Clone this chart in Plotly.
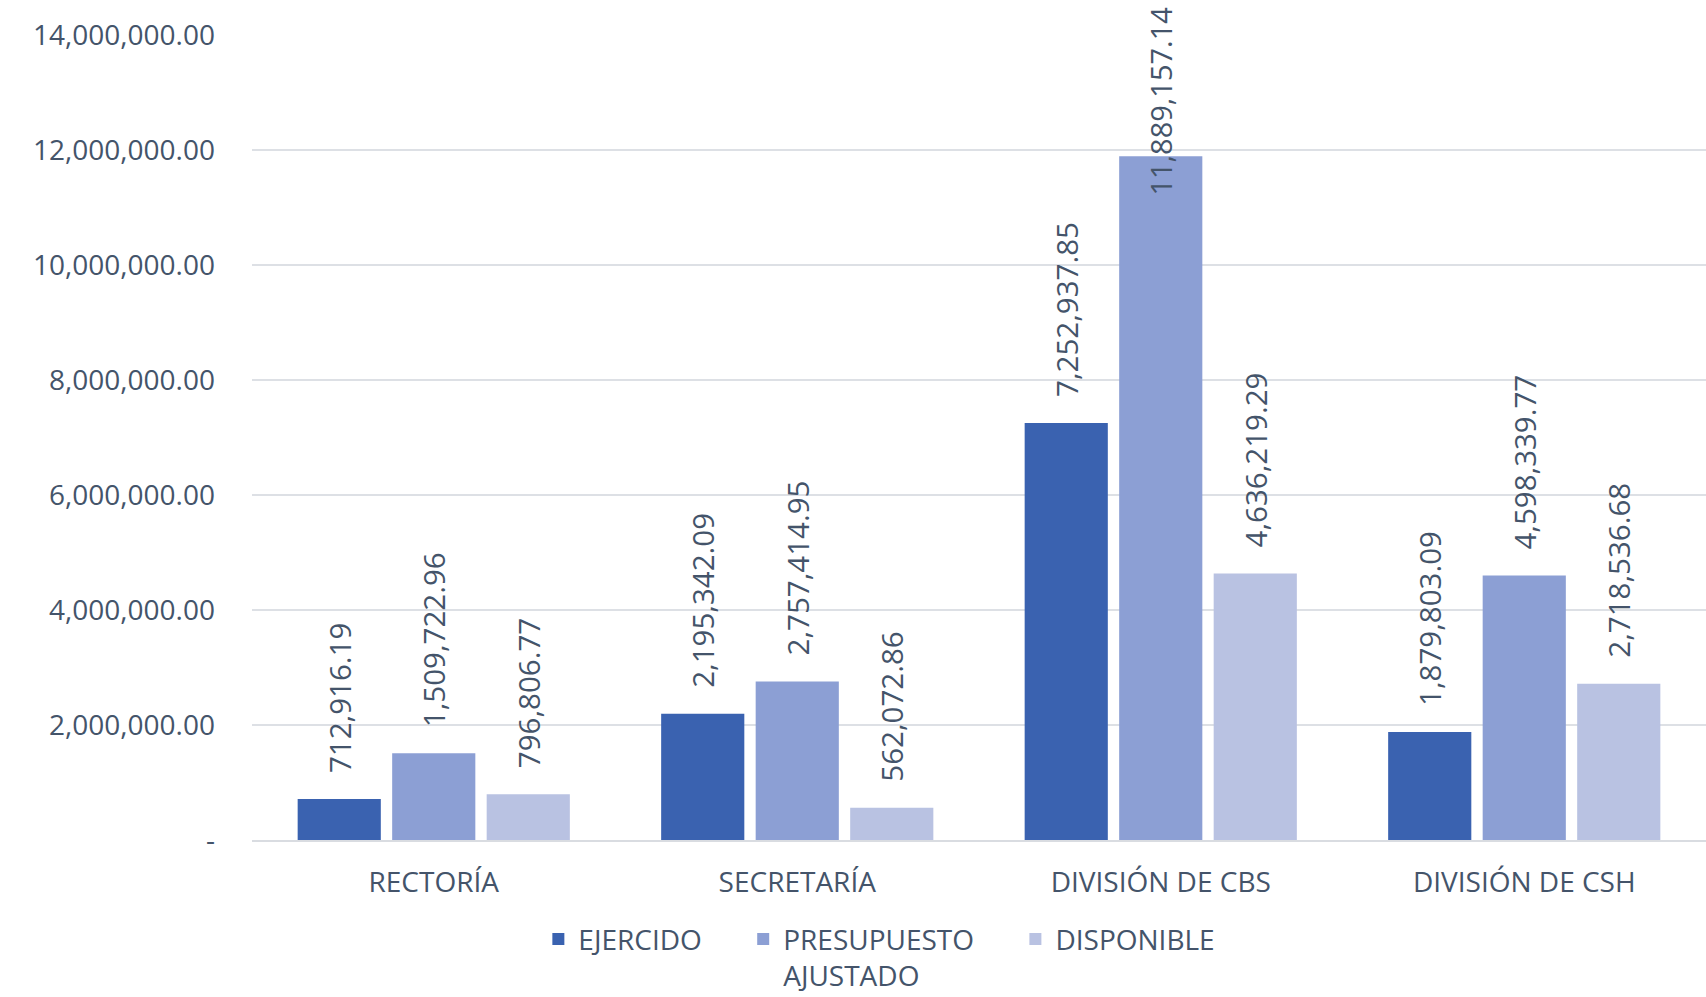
import plotly.graph_objects as go

categories = ["RECTORÍA", "SECRETARÍA", "DIVISIÓN DE CBS", "DIVISIÓN DE CSH"]
ejercido = [712916.19, 2195342.09, 7252937.85, 1879803.09]
presupuesto = [1509722.96, 2757414.95, 11889157.14, 4598339.77]
disponible = [796806.77, 562072.86, 4636219.29, 2718536.68]
series_names = ["EJERCIDO", "PRESUPUESTO<br>AJUSTADO", "DISPONIBLE"]
series_colors = ["#3A62B0", "#8C9FD4", "#B9C2E2"]
tick_values = [0, 2000000, 4000000, 6000000, 8000000, 10000000, 12000000, 14000000]
tick_labels = ["-", "2,000,000.00", "4,000,000.00", "6,000,000.00", "8,000,000.00",
               "10,000,000.00", "12,000,000.00", "14,000,000.00"]

Y_MAX = 14000000
TXT = "#44546A"
FONT = "Open Sans"
FS = 28
FS_LBL = 29.5
PAD = "\u00a0" * 5

fig = go.Figure()
annotations = []
for name, vals, color in zip(series_names, [ejercido, presupuesto, disponible], series_colors):
    texts = []
    for c, v in zip(categories, vals):
        s = f"{v:,.2f}"
        if v > 0.8 * Y_MAX:
            texts.append("")
            annotations.append(dict(
                x=c, y=v, xref="x", yref="y", text=s, textangle=-90,
                showarrow=False, yanchor="bottom", xanchor="center", yshift=-41,
                font=dict(family=FONT, size=29, color=TXT)))
        else:
            texts.append("\u00a0\u00a0\u00a0" + s)
    parts = name.split("<br>")
    legend_name = "<br>".join([parts[0] + PAD] + parts[1:])
    fig.add_trace(go.Bar(
        name=legend_name, x=categories, y=vals, marker=dict(color=color, line=dict(width=0)),
        text=texts, textposition="outside", textangle=-90, cliponaxis=False,
        constraintext="none", textfont=dict(family=FONT, size=FS_LBL, color=TXT),
        hoverinfo="skip"))

fig.update_layout(
    width=1706, height=997,
    margin=dict(l=252, r=0, t=35, b=157),
    paper_bgcolor="white", plot_bgcolor="white",
    barmode="group", bargap=0.22, bargroupgap=0.12,
    font=dict(family=FONT, size=FS, color=TXT),
    annotations=annotations,
    showlegend=True,
    legend=dict(orientation="h", xref="container", yref="container",
                x=0.526, xanchor="center", y=0.083, yanchor="top",
                valign="top", font=dict(family=FONT, size=FS, color=TXT),
                bgcolor="rgba(0,0,0,0)", traceorder="normal"),
    xaxis=dict(showgrid=False, showline=True, linecolor="#D9DCE1", linewidth=2,
               ticks="", ticklabelstandoff=16, automargin=False,
               tickfont=dict(family=FONT, size=FS, color=TXT)),
    yaxis=dict(range=[0, Y_MAX], tickvals=tick_values, ticktext=tick_labels,
               showgrid=True, gridcolor="#DDE0E5", gridwidth=1.5, zeroline=False,
               showline=False, ticks="", ticklabelstandoff=36, automargin=False,
               tickfont=dict(family=FONT, size=FS, color=TXT)),
)

fig.write_html("out.html", config={"displayModeBar": False},
               post_script="document.body.style.margin='0';document.body.style.overflow='hidden';")
